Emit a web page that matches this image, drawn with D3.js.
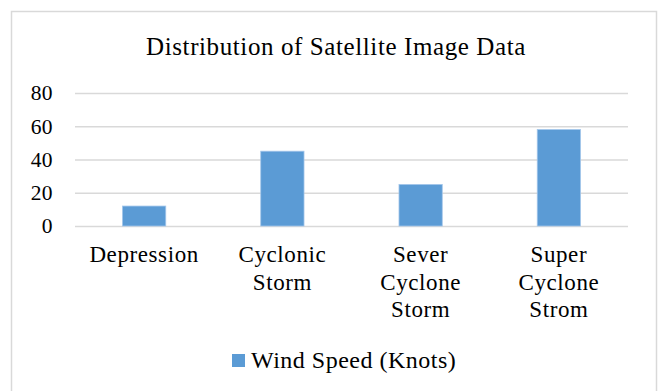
<!DOCTYPE html>
<html>
<head>
<meta charset="utf-8">
<script src="https://cdn.jsdelivr.net/npm/d3@7"></script>
<style>
  html, body { margin: 0; padding: 0; background: #fff; }
  svg { display: block; }
  text { font-family: "Liberation Serif", "Times New Roman", serif; fill: #000; }
</style>
</head>
<body>
<svg id="chart" width="665" height="391"></svg>
<script>
// Wind speed by cyclone category
const categories = ["Depression", "Cyclonic Storm", "Sever Cyclone Storm", "Super Cyclone Strom"];
const categoryLines = [["Depression"], ["Cyclonic", "Storm"], ["Sever", "Cyclone", "Storm"], ["Super", "Cyclone", "Strom"]];
const windSpeed = [12, 45, 25, 58];
const yTicks = [0, 20, 40, 60, 80];
const seriesName = "Wind Speed (Knots)";
const chartTitle = "Distribution of Satellite Image Data";

const W = 665, H = 391;
const plot = { left: 75, right: 628, top: 93, bottom: 226 };
const barColor = "#5b9bd5";
const gridColor = "#d9d9d9";

const svg = d3.select("#chart");

// outer chart frame
svg.append("rect")
  .attr("x", 11.5).attr("y", 11.5)
  .attr("width", 645).attr("height", 400)
  .attr("fill", "#fff")
  .attr("stroke", gridColor).attr("stroke-width", 1.5);

svg.append("text")
  .attr("x", 336).attr("y", 55)
  .attr("text-anchor", "middle")
  .attr("font-size", 25)
  .attr("letter-spacing", 0.6)
  .text(chartTitle);

const x = d3.scaleBand().domain(categories).range([plot.left, plot.right]).padding(0);
const y = d3.scaleLinear().domain([0, 80]).range([plot.bottom, plot.top]);

// horizontal gridlines with value labels
const yAxis = d3.axisLeft(y).tickValues(yTicks).tickSize(-(plot.right - plot.left)).tickPadding(22);
const gy = svg.append("g").attr("transform", `translate(${plot.left},0)`).call(yAxis);
gy.select(".domain").remove();
gy.selectAll(".tick line").attr("stroke", gridColor).attr("stroke-width", 1.5);
gy.selectAll(".tick text")
  .attr("font-size", 21.5)
  .attr("letter-spacing", 0.4)
  .attr("fill", "#000");

// bars
const barW = x.bandwidth() * 0.313;
svg.append("g").selectAll("rect")
  .data(categories)
  .join("rect")
  .attr("x", d => x(d) + x.bandwidth() / 2 - barW / 2)
  .attr("y", (d, i) => y(windSpeed[i]))
  .attr("width", barW)
  .attr("height", (d, i) => y(0) - y(windSpeed[i]))
  .attr("fill", barColor)
  .attr("stroke", "#a3c6ea")
  .attr("stroke-width", 0.8);

// category labels, wrapped over several lines
const lab = svg.append("g").selectAll("text")
  .data(categories)
  .join("text")
  .attr("text-anchor", "middle")
  .attr("font-size", 23)
  .attr("letter-spacing", 0.6)
  .attr("x", d => x(d) + x.bandwidth() / 2)
  .attr("y", 262);
lab.each(function(d, i) {
  d3.select(this).selectAll("tspan")
    .data(categoryLines[i])
    .join("tspan")
    .attr("x", x(d) + x.bandwidth() / 2)
    .attr("dy", (t, j) => j === 0 ? 0 : 27.5)
    .text(t => t);
});

// legend
const legend = svg.append("g").attr("transform", "translate(232,354)");
legend.append("rect").attr("width", 13).attr("height", 13).attr("fill", barColor);
legend.append("text").attr("x", 19).attr("y", 14).attr("font-size", 24)
  .attr("letter-spacing", 0.5).text(seriesName);
</script>
</body>
</html>
